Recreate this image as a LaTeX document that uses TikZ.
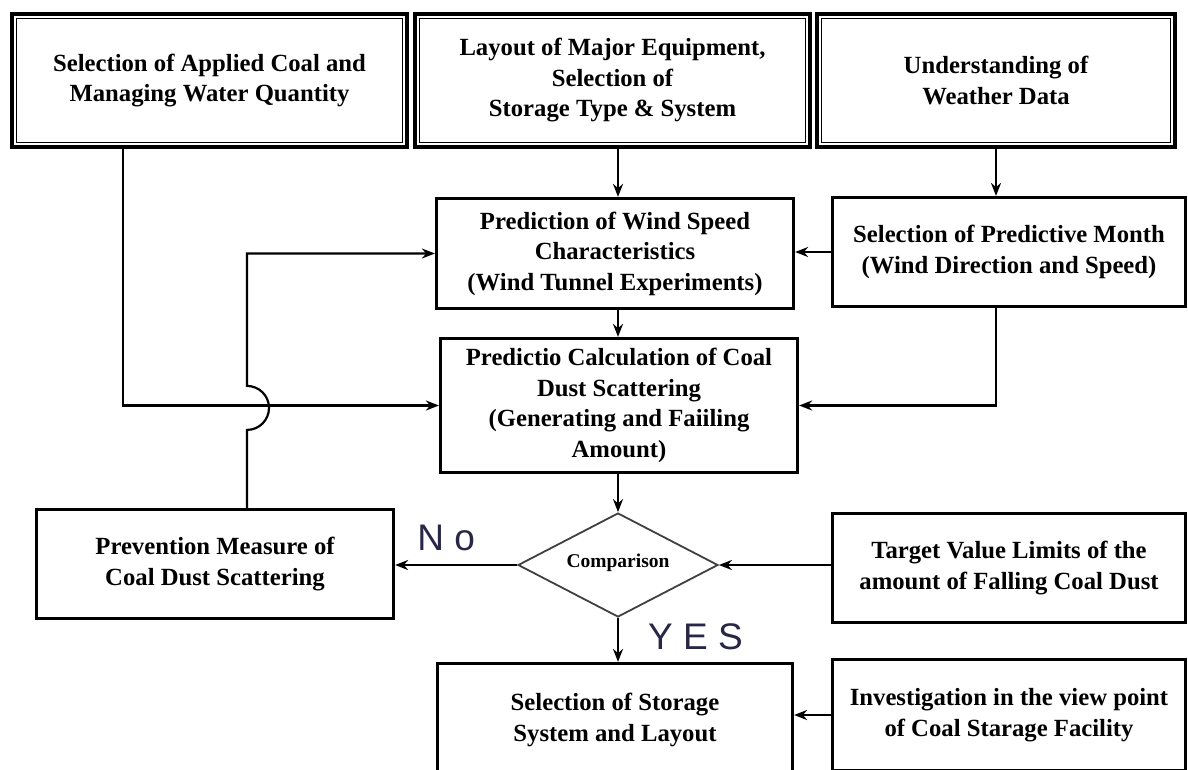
\documentclass[tikz,border=0pt]{standalone}
\usepackage{fontspec}
\setmainfont{Liberation Serif}
\newfontfamily\labelfont{Liberation Sans}
\usetikzlibrary{arrows.meta,shapes.geometric}

\newcommand{\boxfont}{\bfseries\fontsize{24.7}{30.5}\selectfont}
\definecolor{labelblue}{RGB}{40,40,70}

\begin{document}
\begin{tikzpicture}[x=1pt, y=-1pt,
  box/.style={draw, line width=3.2pt, inner sep=0pt, align=center, font=\boxfont},
  inbox/.style={box, line width=4.4pt},
  arr/.style={-{Stealth[length=13pt,width=10pt]}, line width=2.2pt},
  yesno/.style={font=\labelfont\fontsize{37}{40}\selectfont, text=labelblue, inner sep=0pt}]
  \path[use as bounding box, clip] (0,0) rectangle (1188,769);
  \fill[white] (0,0) rectangle (1188,769);

  % input boxes (double frame)
  \node[inbox, minimum width=395pt, minimum height=133pt] (coal)    at (209.5,80.5) {Selection of Applied Coal and\\Managing Water Quantity};
  \node[inbox, minimum width=395pt, minimum height=133pt] (layout)  at (612.5,80.5) {Layout of Major Equipment,\\Selection of\\Storage Type \& System};
  \node[inbox, minimum width=358pt, minimum height=133pt] (weather) at (996,80.5)   {Understanding of\\Weather Data};
  \foreach \n in {coal,layout,weather}
    \draw[line width=1.6pt] ([shift={(6.8,6.8)}]\n.north west) rectangle ([shift={(-6.8,-6.8)}]\n.south east);

  \node[box, minimum width=357pt, minimum height=110pt] (wind)    at (615,253.5) {Prediction of Wind Speed\\Characteristics\\(Wind Tunnel Experiments)};
  \node[box, minimum width=353pt, minimum height=109pt] (month)   at (1009,252)  {Selection of Predictive Month\\(Wind Direction and Speed)};
  \node[box, minimum width=357pt, minimum height=134pt] (calc)    at (619,405.5) {Predictio Calculation of Coal\\Dust Scattering\\(Generating and Faiiling\\Amount)};
  \node[diamond, draw=black!75, line width=1.8pt, minimum width=200pt, minimum height=104pt, inner sep=0pt,
        label={[fill=white, inner xsep=10pt, inner ysep=8pt, yshift=2pt, font=\bfseries\fontsize{19.5}{22}\selectfont]center:Comparison}] (cmp) at (618,565) {};
  \node[box, minimum width=357pt, minimum height=109pt] (prevent) at (215,564)   {Prevention Measure of\\Coal Dust Scattering};
  \node[box, minimum width=353pt, minimum height=109pt] (target)  at (1009,568)  {Target Value Limits of the\\amount of Falling Coal Dust};
  \node[box, minimum width=355pt, minimum height=113pt] (storage) at (615,720)   {Selection of Storage\\System and Layout};
  \node[box, minimum width=353pt, minimum height=111pt] (invest)  at (1009,715)  {Investigation in the view point\\of Coal Starage Facility};

  \draw[arr] (layout.south -| cmp.north) -- (wind.north -| cmp.north);
  \draw[arr] (wind.south -| cmp.north) -- (calc.north -| cmp.north);
  \draw[arr] (calc.south -| cmp.north) -- (cmp.north);
  \draw[arr] (weather.south) -- (weather.south |- month.north);
  \draw[arr] (month.west) -- (month.west -| wind.east);
  \draw[arr] (weather.south |- month.south) |- (calc.east);
  \draw[arr] ([xshift=-86.5pt]coal.south) |- (calc.west);
  % feedback line hops over the coal line
  \draw[arr] ([xshift=32pt]prevent.north) -- ++(0,-78) arc[start angle=90, end angle=-90, radius=22] |- (wind.west);
  \draw[arr] (cmp.west) -- node[yesno, anchor=south, xshift=-10pt, yshift=13pt] {N o} (cmp.west -| prevent.east);
  \draw[arr] (cmp.south) -- node[yesno, anchor=west, xshift=29pt, yshift=3pt] {Y E S} (cmp.south |- storage.north);
  \draw[arr] (target.west |- cmp.east) -- (cmp.east);
  \draw[arr] (invest.west) -- (invest.west -| storage.east);
\end{tikzpicture}
\end{document}
